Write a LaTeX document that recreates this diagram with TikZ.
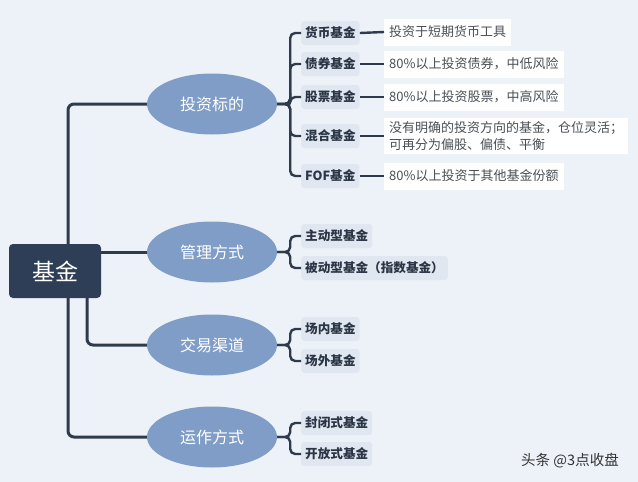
\documentclass[tikz,border=0pt]{standalone}
\usepackage{fontspec}
\setmainfont{Noto Sans CJK SC}
\usetikzlibrary{shapes.geometric}
\definecolor{bgblue}{HTML}{EDF2F9}
\definecolor{rootblue}{HTML}{2D3E56}
\definecolor{midblue}{HTML}{7F9DC6}
\definecolor{leafgrey}{HTML}{E1E7F0}
\definecolor{leaftext}{HTML}{2B3545}
\definecolor{notetext}{HTML}{4A4F57}
\definecolor{linecol}{HTML}{2F3A4A}
\begin{document}
\begin{tikzpicture}[x=1pt, y=-1pt,
	root/.style={fill=rootblue, text=white, minimum width=92pt, minimum height=54pt, rounded corners=4pt, font=\fontsize{23}{26}\selectfont},
	branch/.style={ellipse, fill=midblue, text=white, minimum width=130pt, minimum height=61pt, inner sep=0pt, font=\fontsize{16}{19}\selectfont},
	leaf/.style={anchor=west, fill=leafgrey, text=leaftext, rounded corners=3pt, minimum height=24pt, inner xsep=4pt, font=\bfseries\fontsize{12.6}{15}\selectfont},
	note/.style={anchor=west, fill=white, text=notetext, minimum height=27pt, inner xsep=5pt, align=left, font=\fontsize{13}{17}\selectfont},
	trunk/.style={draw=linecol, line width=3pt, rounded corners=6pt},
	twig/.style={draw=linecol, line width=2.4pt, rounded corners=5pt}]
	\fill[bgblue] (0,0) rectangle (638,482);
	\useasboundingbox (0,0) rectangle (638,482);
	\node[root] (R) at (55,271) {基金};
	\node[branch] (B1) at (212,104) {投资标的};
	\node[branch] (B2) at (212,252) {管理方式};
	\node[branch] (B3) at (212,345) {交易渠道};
	\node[branch] (B4) at (212,437) {运作方式};
	\node[leaf] (L11) at (301,33) {货币基金};
	\node[leaf] (L12) at (301,64) {债券基金};
	\node[leaf] (L13) at (301,97) {股票基金};
	\node[leaf] (L14) at (301,136) {混合基金};
	\node[leaf] (L15) at (301,176) {FOF基金};
	\node[leaf] (L21) at (301,236) {主动型基金};
	\node[leaf] (L22) at (301,268) {被动型基金（指数基金）};
	\node[leaf] (L31) at (301,329) {场内基金};
	\node[leaf] (L32) at (301,361) {场外基金};
	\node[leaf] (L41) at (301,423) {封闭式基金};
	\node[leaf] (L42) at (301,454) {开放式基金};
	\node[note] (N11) at (384,32) {投资于短期货币工具};
	\node[note] (N12) at (384,64) {80\%以上投资债券，中低风险};
	\node[note] (N13) at (384,97) {80\%以上投资股票，中高风险};
	\node[note] (N14) at (384,136) {没有明确的投资方向的基金，仓位灵活；\\可再分为偏股、偏债、平衡};
	\node[note] (N15) at (384,176) {80\%以上投资于其他基金份额};
	\node[text=black!80, font=\fontsize{14.5}{16}\selectfont] (M) at (570,461) {头条 @3点收盘};
	\draw[trunk] ([xshift=13pt]R.north) |- (B1.west);
	\draw[trunk] (R.east |- B2.west) -- (B2.west);
	\draw[trunk] ([xshift=32pt]R.south) |- (B3.west);
	\draw[trunk] ([xshift=13pt]R.south) |- (B4.west);
	\foreach \l in {L11,L12,L13,L14,L15}
		\draw[twig] (B1.east) -- ++(13,0) |- (\l.west);
	\foreach \l in {L21,L22}
		\draw[twig] (B2.east) -- ++(13,0) |- (\l.west);
	\foreach \l in {L31,L32}
		\draw[twig] (B3.east) -- ++(13,0) |- (\l.west);
	\foreach \l in {L41,L42}
		\draw[twig] (B4.east) -- ++(13,0) |- (\l.west);
	\foreach \n in {1,...,5}
		\draw[twig] (L1\n.east) -- (N1\n.west);
\end{tikzpicture}
\end{document}
